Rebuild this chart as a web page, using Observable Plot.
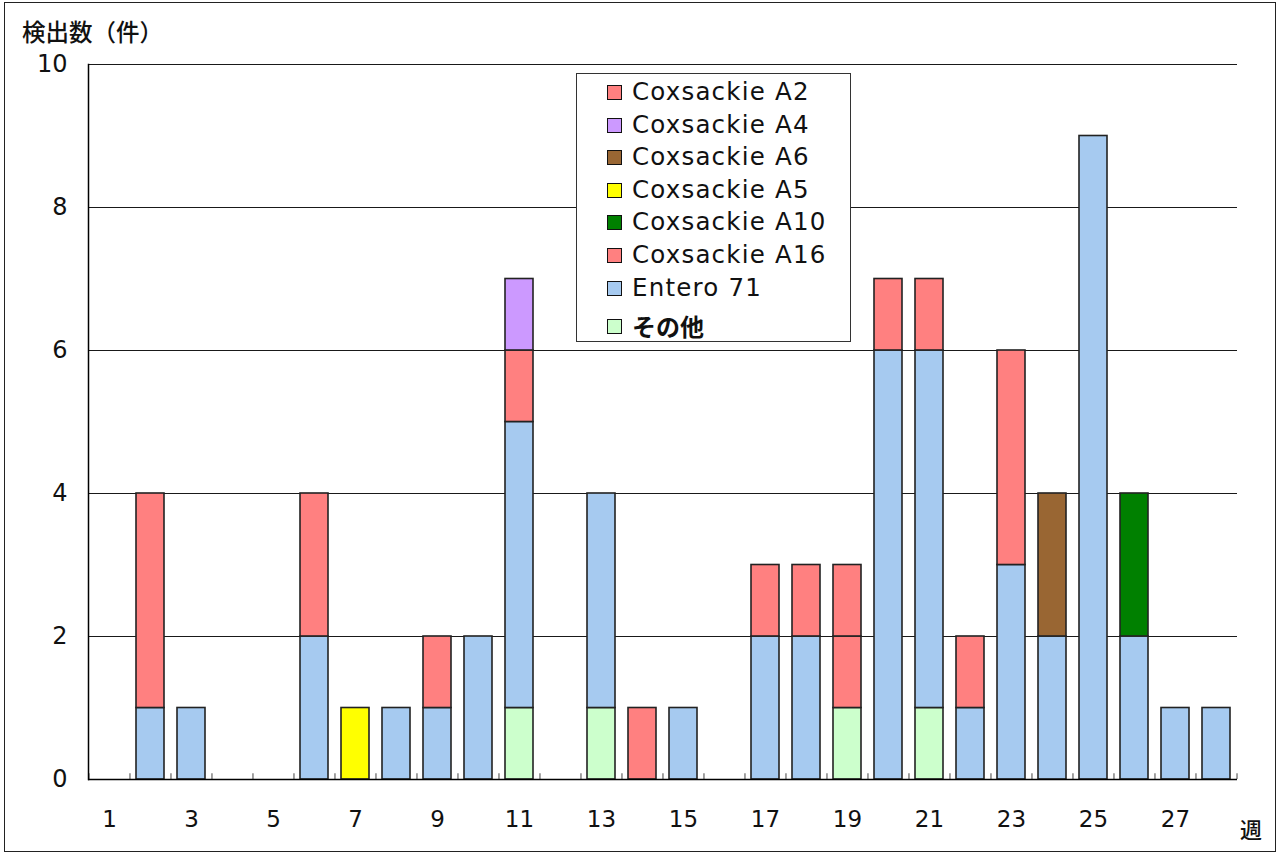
<!DOCTYPE html>
<html>
<head>
<meta charset="utf-8">
<script src="https://cdn.jsdelivr.net/npm/d3@7"></script>
<script src="https://cdn.jsdelivr.net/npm/@observablehq/plot@0.6"></script>
<style>
  html, body { margin: 0; padding: 0; background: #fff; overflow: hidden; }
  #wrap { position: relative; width: 1281px; height: 854px; font-family: "DejaVu Sans", "Noto Sans CJK JP", sans-serif; }
  #frame { position: absolute; left: 4px; top: 2px; width: 1270px; height: 848px; border: 1.5px solid #222; pointer-events: none; }
  #ytitle { position: absolute; left: 22px; top: 15px; font-size: 23.5px; line-height: 32px; color: #111; font-family: "Noto Sans CJK JP", sans-serif; font-weight: 500; }
  #xtitle { position: absolute; left: 1240px; top: 812px; font-size: 22px; color: #111; font-family: "Noto Sans CJK JP", sans-serif; font-weight: 500; }
  #legend { position: absolute; left: 576px; top: 73px; width: 273px; height: 267px; border: 1.5px solid #333; background: #fff; }
  .sw { position: absolute; left: 30px; width: 13px; height: 13px; border: 1.5px solid #111; }
  .lab { position: absolute; left: 55px; font-size: 24.5px; letter-spacing: 1.2px; color: #111; white-space: nowrap; line-height: 30px; }
  .jp { font-family: "Noto Sans CJK JP", sans-serif; font-weight: 700; font-size: 24px; letter-spacing: 0; }
</style>
</head>
<body>
<div id="wrap">
  <div id="chart"></div>
  <div id="frame"></div>
  <div id="ytitle">検出数（件）</div>
  <div id="xtitle">週</div>
  <div id="legend"></div>
</div>
<script>
// ---- data ----
const weeks = d3.range(1, 29);
const xTickLabels = [1, 3, 5, 7, 9, 11, 13, 15, 17, 19, 21, 23, 25, 27];
const yTickLabels = [0, 2, 4, 6, 8, 10];

// stack order, bottom to top
const seriesNames = ["その他", "Entero 71", "Coxsackie A16", "Coxsackie A10", "Coxsackie A5", "Coxsackie A6", "Coxsackie A4", "Coxsackie A2"];
const seriesColors = ["#CCFFCC", "#A6CAF0", "#FF8080", "#008000", "#FFFF00", "#996633", "#CC99FF", "#FF8080"];

//                 1  2  3  4  5  6  7  8  9 10 11 12 13 14 15 16 17 18 19 20 21 22 23 24 25 26 27 28
const other    = [0, 0, 0, 0, 0, 0, 0, 0, 0, 0, 1, 0, 1, 0, 0, 0, 0, 0, 1, 0, 1, 0, 0, 0, 0, 0, 0, 0];
const entero71 = [0, 1, 1, 0, 0, 2, 0, 1, 1, 2, 4, 0, 3, 0, 1, 0, 2, 2, 0, 6, 5, 1, 3, 2, 9, 2, 1, 1];
const coxA16   = [0, 3, 0, 0, 0, 2, 0, 0, 1, 0, 1, 0, 0, 1, 0, 0, 1, 1, 1, 1, 1, 1, 3, 0, 0, 0, 0, 0];
const coxA10   = [0, 0, 0, 0, 0, 0, 0, 0, 0, 0, 0, 0, 0, 0, 0, 0, 0, 0, 0, 0, 0, 0, 0, 0, 0, 2, 0, 0];
const coxA5    = [0, 0, 0, 0, 0, 0, 1, 0, 0, 0, 0, 0, 0, 0, 0, 0, 0, 0, 0, 0, 0, 0, 0, 0, 0, 0, 0, 0];
const coxA6    = [0, 0, 0, 0, 0, 0, 0, 0, 0, 0, 0, 0, 0, 0, 0, 0, 0, 0, 0, 0, 0, 0, 0, 2, 0, 0, 0, 0];
const coxA4    = [0, 0, 0, 0, 0, 0, 0, 0, 0, 0, 1, 0, 0, 0, 0, 0, 0, 0, 0, 0, 0, 0, 0, 0, 0, 0, 0, 0];
const coxA2    = [0, 0, 0, 0, 0, 0, 0, 0, 0, 0, 0, 0, 0, 0, 0, 0, 0, 0, 1, 0, 0, 0, 0, 0, 0, 0, 0, 0];

const seriesValues = [other, entero71, coxA16, coxA10, coxA5, coxA6, coxA4, coxA2];

// ---- build table ----
const records = [];
weeks.forEach((w, i) => {
  seriesNames.forEach((s, j) => {
    const v = seriesValues[j][i];
    if (v > 0) records.push({week: w, series: s, count: v});
  });
});

const W = 1281, H = 854, mL = 88, mR = 44, mT = 64, mB = 75;
const step = (W - mL - mR) / weeks.length;
const fontStack = "'DejaVu Sans', 'Noto Sans CJK JP', sans-serif";

const chart = Plot.plot({
  width: W, height: H,
  marginLeft: mL, marginRight: mR, marginTop: mT, marginBottom: mB,
  style: {fontFamily: fontStack, color: "#111", background: "transparent"},
  x: {type: "band", domain: weeks, paddingInner: 0.32, paddingOuter: 0.16, axis: null, label: null},
  y: {domain: [0, 10], axis: null, label: null},
  color: {domain: seriesNames, range: seriesColors},
  marks: [
    Plot.gridY(yTickLabels.filter(d => d > 0), {stroke: "#000", strokeOpacity: 0.9, strokeWidth: 1}),
    Plot.barY(records, {x: "week", y: "count", z: "series", fill: "series", order: seriesNames, stroke: "#222", strokeWidth: 1.6}),
    Plot.ruleX(weeks, {x: d => d, dx: -step / 2, y1: 0, y2: 0.08, stroke: "#444", strokeWidth: 1}),
    Plot.ruleX([weeks[weeks.length - 1]], {x: d => d, dx: step / 2, y1: 0, y2: 0.08, stroke: "#444", strokeWidth: 1}),
    Plot.ruleY([0], {stroke: "#000", strokeWidth: 1.5}),
    Plot.frame({anchor: "left", stroke: "#000", strokeWidth: 1.5}),
    Plot.axisX(xTickLabels, {tickSize: 0, tickPadding: 31, fontSize: 23, fill: "#111", label: null, tickFormat: d => String(d)}),
    Plot.axisY(yTickLabels, {tickSize: 0, tickPadding: 21, fontSize: 24, fill: "#111", label: null, tickFormat: d => String(d)})
  ]
});
document.getElementById("chart").appendChild(chart);

// ---- legend (reverse of stack order) ----
const legend = document.getElementById("legend");
const legendNames = seriesNames.slice().reverse();
const legendColors = seriesColors.slice().reverse();
legendNames.forEach((name, i) => {
  const cy = (i < 7 ? 19 + i * 32.6 : 19 + 6 * 32.6 + 38);
  const sw = document.createElement("div");
  sw.className = "sw";
  sw.style.top = (cy - 8) + "px";
  sw.style.background = legendColors[i];
  legend.appendChild(sw);
  const lab = document.createElement("div");
  lab.className = "lab" + (/^[A-Za-z]/.test(name) ? "" : " jp");
  lab.style.top = (cy - 16) + "px";
  lab.textContent = name;
  legend.appendChild(lab);
});
</script>
</body>
</html>
